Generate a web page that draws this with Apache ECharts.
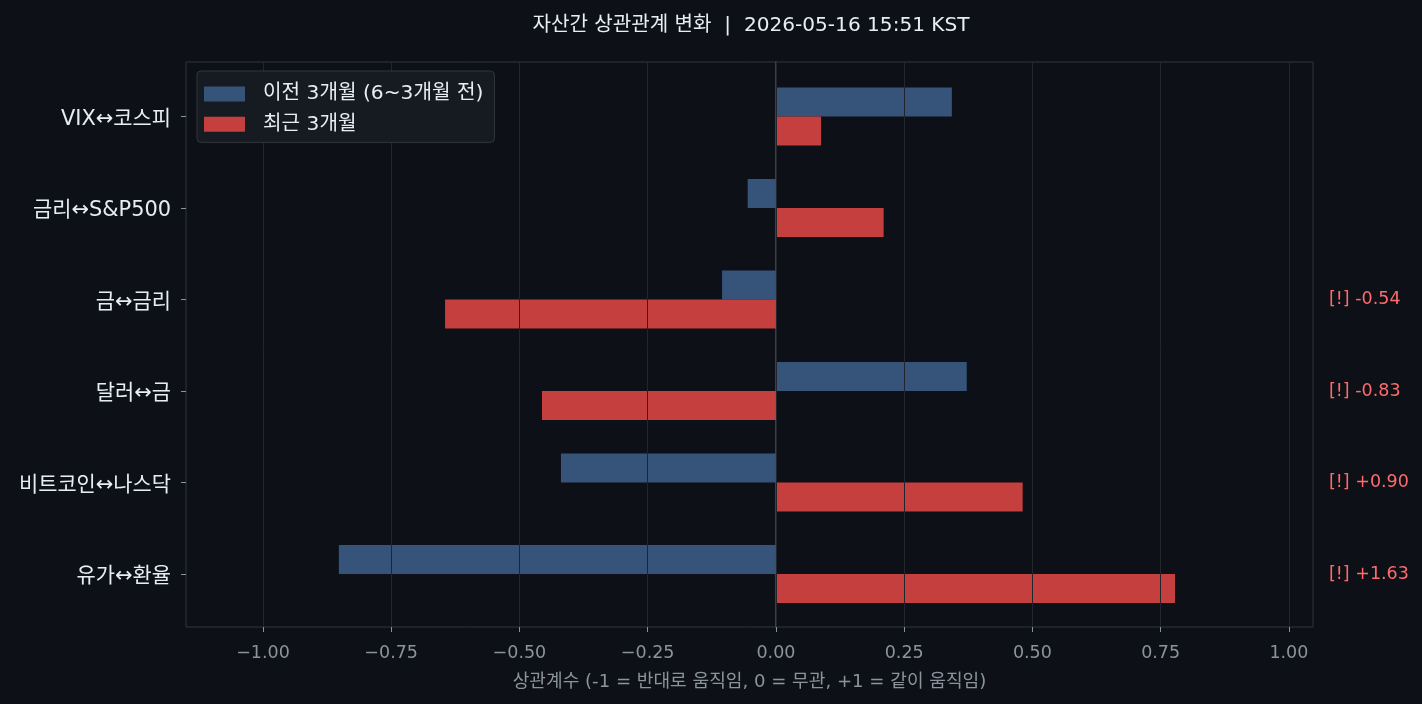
<!DOCTYPE html>
<html><head><meta charset="utf-8">
<script src="https://cdn.jsdelivr.net/npm/echarts@6/dist/echarts.min.js"></script>
<style>html,body{margin:0;padding:0;background:#0d1117;}#c{width:1422px;height:704px;}</style>
</head><body><div id="c"></div>
<script>
const categories = ['VIX↔코스피', '금리↔S&P500', '금↔금리', '달러↔금', '비트코인↔나스닥', '유가↔환율'];
const prevValues = [0.343, -0.055, -0.105, 0.372, -0.419, -0.852];
const recentValues = [0.088, 0.210, -0.645, -0.456, 0.481, 0.778];
const annotations = ['', '', '[!] -0.54', '[!] -0.83', '[!] +0.90', '[!] +1.63'];
const xTicks = [-1.0, -0.75, -0.5, -0.25, 0, 0.25, 0.5, 0.75, 1.0];
const seriesNames = ['이전 3개월 (6~3개월 전)', '최근 3개월'];
const titleText = '자산간 상관관계 변화  |  2026-05-16 15:51 KST';
const xName = '상관계수 (-1 = 반대로 움직임, 0 = 무관, +1 = 같이 움직임)';

const FONT = '"DejaVu Sans", "Noto Sans CJK KR", sans-serif';
const XMIN = -1.15, XMAX = 1.047;
const fmt = v => (v < 0 ? '\u2212' : '') + Math.abs(v).toFixed(2);

const chart = echarts.init(document.getElementById('c'), null, {renderer: 'canvas'});
chart.setOption({
  backgroundColor: '#0d1117',
  animation: false,
  textStyle: {fontFamily: FONT},
  title: {
    text: titleText, left: 746, top: 11, textAlign: 'center',
    textStyle: {color: '#e6edf3', fontSize: 20.1, fontWeight: 'normal', fontFamily: FONT}
  },
  legend: {
    orient: 'vertical', left: 197, top: 71,
    icon: 'rect',
    itemWidth: 41, itemHeight: 15, itemGap: 10,
    padding: [13, 11, 8, 7],
    backgroundColor: '#161b22', borderColor: '#30363d', borderWidth: 1, borderRadius: 4,
    textStyle: {color: '#e6edf3', fontSize: 20.2, fontFamily: FONT, padding: [0, 0, 0, 13]},
    data: seriesNames
  },
  grid: [
    {left: 186, right: 109, top: 62, bottom: 77, show: true, borderColor: '#30363d', borderWidth: 1, backgroundColor: 'transparent', containLabel: false},
    {left: 186, right: 109, top: 70.75, bottom: 84.25, containLabel: false}
  ],
  xAxis: [
    {
      type: 'value', gridIndex: 0, min: XMIN, max: XMAX, z: 3,
      name: xName, nameLocation: 'middle', nameGap: 46,
      nameTextStyle: {color: '#8b949e', fontSize: 18.1, fontFamily: FONT},
      axisLine: {show: false},
      axisTick: {show: true, length: 5, lineStyle: {color: '#8b949e'}, customValues: xTicks},
      axisLabel: {color: '#8b949e', fontSize: 17.5, margin: 18, fontFamily: FONT, customValues: xTicks, formatter: fmt},
      splitLine: {show: true, lineStyle: {color: '#21262d', width: 1}}
    },
    {type: 'value', gridIndex: 1, min: XMIN, max: XMAX, show: false, splitLine: {show: false}}
  ],
  yAxis: [
    {
      type: 'value', gridIndex: 0, min: 0, max: 1,
      axisLine: {show: true, onZero: true, lineStyle: {color: '#484f58', width: 1.5}},
      axisTick: {show: false}, axisLabel: {show: false}, splitLine: {show: false}
    },
    {
      type: 'category', gridIndex: 1, data: categories, inverse: true,
      axisLine: {show: false, onZero: false},
      axisTick: {show: true, length: 5, alignWithLabel: true, lineStyle: {color: '#8b949e'}},
      axisLabel: {
        margin: 15,
        formatter: v => '{a|' + v + '}',
        rich: {a: {color: '#e6edf3', fontSize: 20.9, fontFamily: FONT, padding: [6, 0, 0, 0]}}
      },
      splitLine: {show: false}
    },
    {
      type: 'category', gridIndex: 1, data: categories, inverse: true, position: 'right',
      axisLine: {show: false, onZero: false}, axisTick: {show: false},
      axisLabel: {color: '#ff6b6b', fontSize: 17.5, margin: 16, fontFamily: FONT,
        formatter: (v, i) => annotations[i]},
      splitLine: {show: false}
    }
  ],
  series: [
    {
      name: seriesNames[0], type: 'bar', xAxisIndex: 1, yAxisIndex: 1,
      data: prevValues, barWidth: 29, barGap: '0%',
      itemStyle: {color: '#36537a'}, z: 2
    },
    {
      name: seriesNames[1], type: 'bar', xAxisIndex: 1, yAxisIndex: 1,
      data: recentValues, barWidth: 29, barGap: '0%',
      itemStyle: {color: '#c63f3f'}, z: 2
    }
  ]
});
</script></body></html>
